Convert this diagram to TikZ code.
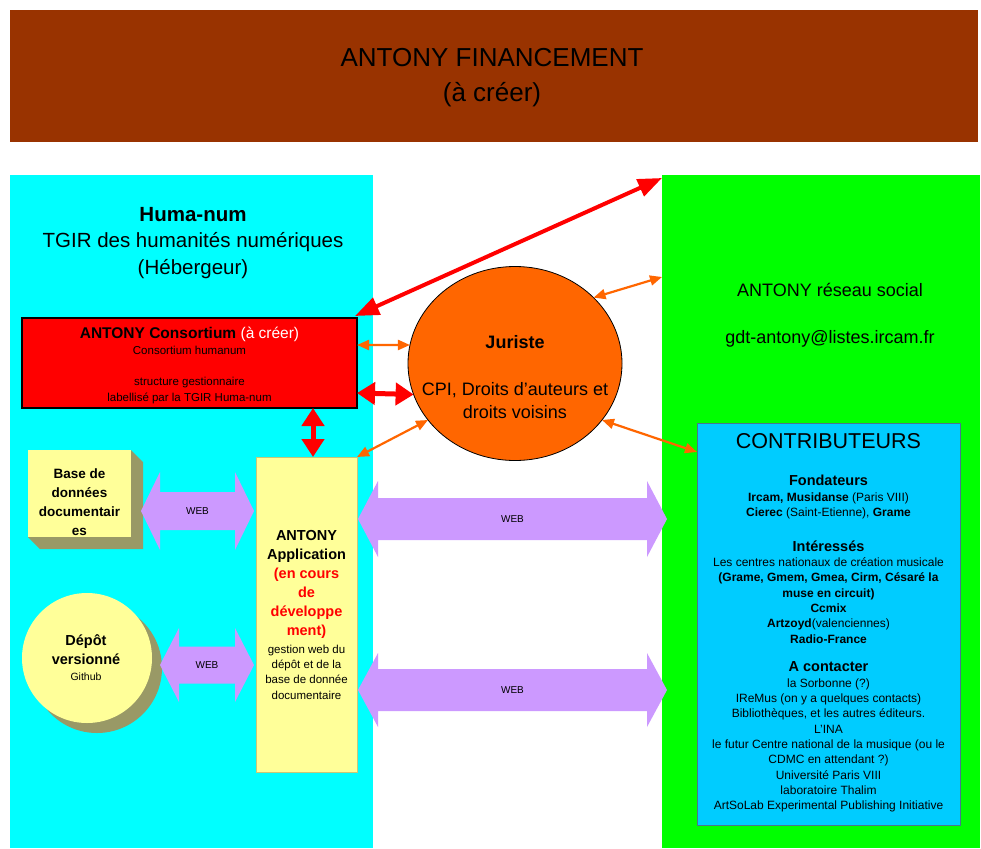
\documentclass[tikz,border=0pt]{standalone}
\usepackage{fontspec}
\setmainfont{Liberation Sans}
\usetikzlibrary{arrows.meta,shapes.geometric,calc}
\definecolor{brownbar}{HTML}{993300}
\definecolor{cyanpanel}{HTML}{00FFFF}
\definecolor{greenpanel}{HTML}{00FF00}
\definecolor{consred}{HTML}{FF0000}
\definecolor{jurorange}{HTML}{FF6600}
\definecolor{appyellow}{HTML}{FFFF99}
\definecolor{khakiside}{HTML}{999966}
\definecolor{webpurple}{HTML}{CC99FF}
\definecolor{contribblue}{HTML}{00CCFF}
\definecolor{appborder}{HTML}{C8C878}
\newcommand\myfs[2]{\fontsize{#1}{#2}\selectfont}
\newcommand\webarrow[6]{%
  \fill[webpurple] (#1) -- ($(#1)+(#5,-#4)$) -- ($(#1)+(#5,-#3)$) -- ($(#2)+(-#5,-#3)$) -- ($(#2)+(-#5,-#4)$) -- (#2)
    -- ($(#2)+(-#5,#4)$) -- ($(#2)+(-#5,#3)$) -- ($(#1)+(#5,#3)$) -- ($(#1)+(#5,#4)$) -- cycle;
  \node[txt, font=\myfs{10}{12}] (#6) at ($(#1)!0.5!(#2)$) {WEB};}
\begin{document}
\begin{tikzpicture}[x=1pt,y=-1pt,
  box/.style={rectangle,inner sep=0pt,outer sep=0pt},
  txt/.style={align=center,inner sep=0pt,outer sep=0pt},
  redarrow/.style={draw=consred, line width=4pt, {Triangle[length=24pt,width=18pt]}-{Triangle[length=24pt,width=18pt]}},
  redfat/.style={draw=consred, line width=5pt, {Triangle[length=18pt,width=22pt]}-{Triangle[length=18pt,width=22pt]}},
  orarrow/.style={draw=jurorange, line width=2.2pt, {Triangle[length=12pt,width=10pt]}-{Triangle[length=12pt,width=10pt]}}
]
\useasboundingbox (0,0) rectangle (981,848);
\fill[white] (0,0) rectangle (981,848);

% top bar
\node[box, fill=brownbar, minimum width=968pt, minimum height=132pt] (fin) at (494,76) {};
\node[txt, font=\myfs{26}{35}] (fintxt) at (492,78) {ANTONY FINANCEMENT\\(à créer)};

% panels
\node[box, fill=cyanpanel, minimum width=363pt, minimum height=673pt] (huma) at (191.5,511.5) {};
\node[box, fill=greenpanel, minimum width=318pt, minimum height=673pt] (green) at (821,511.5) {};

\node[txt, font=\myfs{20.5}{26.5}] (humatxt) at (193,243) {\textbf{Huma-num}\\TGIR des humanités numériques\\(Hébergeur)};

% consortium
\node[box, fill=consred, draw=black, line width=1.3pt, minimum width=335pt, minimum height=90pt] (consort) at (189.5,363) {};
\node[txt, font=\myfs{11.5}{16}] (consorttxt) at (189.5,365) {{\myfs{15.5}{16}\textbf{ANTONY Consortium} \textcolor{white}{(à créer)}}\\Consortium humanum\\[15pt]structure gestionnaire\\labellisé par la TGIR Huma-num};

% base de données (3D box)
\node[box, fill=appyellow, minimum width=103pt, minimum height=87pt] (base) at (79.5,493.5) {};
\fill[khakiside] (base.north east) -- ($(base.north east)+(12,12)$) -- ($(base.south east)+(12,12)$) -- ($(base.south west)+(12,12)$) -- (base.south west) -- (base.south east) -- cycle;
\node[txt, font=\myfs{13.5}{19}\bfseries] (basetxt) at (79.5,502) {Base de\\données\\documentair\\es};

% dépôt versionné
\fill[khakiside] (97,668) circle (65);
\node[circle, fill=appyellow, minimum size=130pt, inner sep=0pt, outer sep=0pt] (depot) at (87,658) {};
\node[txt, font=\myfs{14.5}{19}] (depottxt) at (86,658) {\textbf{Dépôt}\\\textbf{versionné}\\[-3pt]{\myfs{10.5}{13}Github}};

% application
\node[box, fill=appyellow, draw=appborder, line width=1pt, minimum width=101pt, minimum height=315pt] (app) at (306.5,614.5) {};
\node[txt, font=\myfs{14.5}{19}\bfseries] (apptxt) at (306.5,584) {ANTONY\\Application\\\textcolor{consred}{(en cours}\\\textcolor{consred}{de}\\\textcolor{consred}{développe}\\\textcolor{consred}{ment)}};
\node[txt, font=\myfs{11.5}{15.3}] (appsub) at (306.5,672) {gestion web du\\dépôt et de la\\base de donnée\\documentaire};

% juriste
\node[ellipse, fill=jurorange, draw=black, line width=0.8pt, minimum width=214pt, minimum height=194pt, inner sep=0pt, outer sep=0pt] (jur) at (515,363.5) {};
\node[txt, font=\myfs{18}{23}] (jurtxt) at (515,377) {\textbf{Juriste}\\[24pt]CPI, Droits d'auteurs et\\droits voisins};

% green panel texts
\node[txt, font=\myfs{18}{23}] (greentxt) at (830,315) {ANTONY réseau social\\[24pt]gdt-antony@listes.ircam.fr};

% contributeurs
\node[box, fill=contribblue, draw=cyan!50!black, line width=0.6pt, minimum width=263pt, minimum height=402pt] (contrib) at (828.5,624) {};
\node[txt, font=\myfs{21.5}{24}] (ctitle) at ($(contrib.north)+(0,18)$) {CONTRIBUTEURS};
\node[txt, font=\myfs{12}{15.5}] (cfond) at (828.5,497) {{\myfs{14.5}{15.5}\textbf{Fondateurs}}\\\textbf{Ircam, Musidanse} (Paris VIII)\\\textbf{Cierec} (Saint-Etienne), \textbf{Grame}};
\node[txt, font=\myfs{12}{15.3}] (cint) at (828.5,592) {{\myfs{14.5}{15.3}\textbf{Intéressés}}\\Les centres nationaux de création musicale\\\textbf{(Grame, Gmem, Gmea, Cirm, Césaré la}\\\textbf{muse en circuit)}\\\textbf{Ccmix}\\\textbf{Artzoyd}(valenciennes)\\\textbf{Radio-France}};
\node[txt, font=\myfs{12}{15.3}] (ccont) at (828.5,737) {{\myfs{14.5}{15.3}\textbf{A contacter}}\\la Sorbonne (?)\\IReMus (on y a quelques contacts)\\Bibliothèques, et les autres éditeurs.\\L'INA\\le futur Centre national de la musique (ou le\\CDMC en attendant ?)\\Université Paris VIII\\laboratoire Thalim\\ArtSoLab Experimental Publishing Initiative};

% WEB block arrows
\coordinate (w1l) at ($(base.east)+(10,17.5)$);
\coordinate (w1r) at ($(w1l -| app.west)+(-2,0)$);
\webarrow{w1l}{w1r}{19}{39}{19}{web1}
\coordinate (w2l) at ($(depot.east)+(8,7)$);
\coordinate (w2r) at ($(w2l -| app.west)+(-2,0)$);
\webarrow{w2l}{w2r}{18.5}{37}{19}{web2}
\coordinate (w3l) at ($(app.east)+(1,-95.5)$);
\coordinate (w3r) at ($(w3l -| green.west)+(5,0)$);
\webarrow{w3l}{w3r}{21}{38}{20}{web3}
\coordinate (w4l) at ($(app.east)+(1,75.5)$);
\coordinate (w4r) at ($(w4l -| green.west)+(5,0)$);
\webarrow{w4l}{w4r}{21}{37}{20}{web4}

% red arrows
\draw[redarrow] ($(consort.north east)+(-2,-2)$) -- ($(green.north west)+(0,3)$);
\coordinate (r2s) at ($(consort.south east)+(0,-15)$);
\draw[redfat] (r2s) -- (jur.197);
\coordinate (r3s) at ($(consort.south east)+(-44,0)$);
\draw[redfat] (r3s) -- (r3s |- app.north);

% orange arrows
\draw[orarrow] ($(consort.east)+(0,-18)$) -- (jur.170);
\draw[orarrow] (jur.40) -- ($(green.north west)+(0,102)$);
\draw[orarrow] (jur.213) -- (app.north east);
\draw[orarrow] (jur.-33) -- ($(contrib.north west)+(0,29)$);
\end{tikzpicture}
\end{document}
